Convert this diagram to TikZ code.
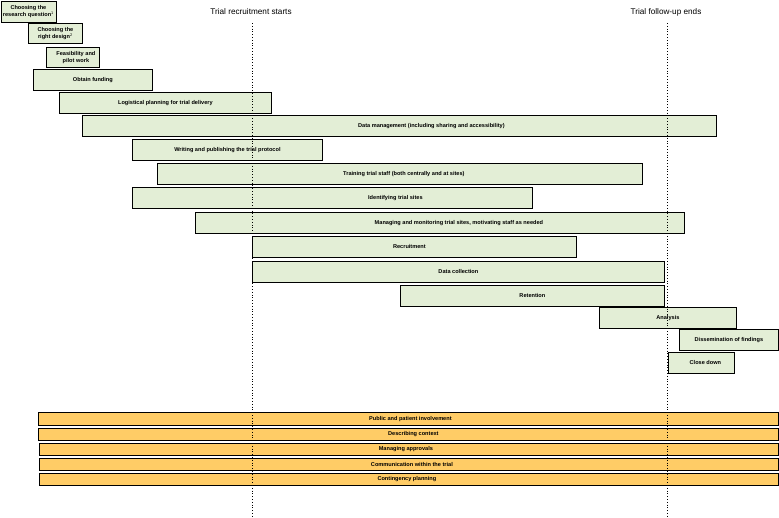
\documentclass[tikz,border=0pt]{standalone}
\usepackage{fontspec}
\setmainfont{Liberation Sans}
\begin{document}
\begin{tikzpicture}[x=1pt,y=-1pt,
  txt/.style={font=\fontsize{5.6}{6.4}\selectfont\bfseries,align=center},
  bx/.style={draw=black,line width=0.8pt,anchor=north west,inner sep=0pt,txt},
  gb/.style={bx,fill=gfill},
  ob/.style={bx,fill=ofill},
  lab/.style={txt,inner sep=0pt},
  hdr/.style={font=\fontsize{8.2}{9}\selectfont,inner sep=0pt},
  vline/.style={draw=black,line width=0.8pt,dotted}]
\definecolor{gfill}{HTML}{E3EED6}
\definecolor{ofill}{HTML}{FFCC66}
\useasboundingbox (0,0) rectangle (779,517);
% green boxes
\node[gb,minimum width=55pt,minimum height=21pt] (q) at (0.5,0.5) {Choosing the\\research question$^{\mathrm{1}}$};
\node[gb,minimum width=54pt,minimum height=20pt] (d) at (28,23) {Choosing the\\right design$^{\mathrm{2}}$};
\node[gb,minimum width=53pt,minimum height=20pt,label={[lab,xshift=3pt]center:Feasibility and\\pilot work}] (f) at (46,47) {};
\node[gb,minimum width=119pt,minimum height=21pt] (fund) at (33,69) {Obtain funding};
\node[gb,minimum width=212pt,minimum height=21pt] (log) at (59,92) {Logistical planning for trial delivery};
\node[gb,minimum width=634pt,minimum height=21pt,label={[lab,xshift=32pt]center:Data management (including sharing and accessibility)}] (dm) at (82,115) {};
\node[gb,minimum width=190pt,minimum height=21pt] (wp) at (132,139) {Writing and publishing the trial protocol};
\node[gb,minimum width=485pt,minimum height=21pt,label={[lab,xshift=4pt]center:Training trial staff (both centrally and at sites)}] (tr) at (157,163) {};
\node[gb,minimum width=400pt,minimum height=21pt,label={[lab,xshift=63pt]center:Identifying trial sites}] (id) at (132,187) {};
\node[gb,minimum width=489pt,minimum height=21pt,label={[lab,xshift=19pt]center:Managing and monitoring trial sites, motivating staff as needed}] (mm) at (195,212) {};
\node[gb,minimum width=324pt,minimum height=21pt,label={[lab,xshift=-5pt]center:Recruitment}] (rec) at (252,236) {};
\node[gb,minimum width=412pt,minimum height=21pt] (dc) at (252,261) {Data collection};
\node[gb,minimum width=264pt,minimum height=21pt] (ret) at (400,285) {Retention};
\node[gb,minimum width=137pt,minimum height=21pt] (an) at (599,307) {Analysis};
\node[gb,minimum width=99pt,minimum height=21pt] (dis) at (679,329) {Dissemination of findings};
\node[gb,minimum width=66pt,minimum height=21pt,label={[lab,xshift=4pt]center:Close down}] (cd) at (668,352) {};
% orange bars
\node[ob,minimum width=740pt,minimum height=13pt,label={[lab,xshift=2pt]center:Public and patient involvement}] (ppi) at (38,412) {};
\node[ob,minimum width=740pt,minimum height=12.5pt,label={[lab,xshift=5pt]center:Describing context}] (ctx) at (38,427.5) {};
\node[ob,minimum width=739pt,minimum height=12.5pt,label={[lab,xshift=-3pt]center:Managing approvals}] (appr) at (39,442.5) {};
\node[ob,minimum width=739pt,minimum height=12.5pt,label={[lab,xshift=3pt]center:Communication within the trial}] (comm) at (39,457.5) {};
\node[ob,minimum width=739pt,minimum height=12.5pt,label={[lab,xshift=-2pt]center:Contingency planning}] (cont) at (39,472.5) {};
% headers and dotted lines
\node[hdr] (rs) at (251,12) {Trial recruitment starts};
\node[hdr] (fe) at (666,12) {Trial follow-up ends};
\coordinate (rst) at (252,23);
\coordinate (fet) at (667,23);
\coordinate (rsb) at (252,517);
\coordinate (feb) at (667,517);
\draw[vline] (rst) -- (rsb);
\draw[vline] (fet) -- (feb);
\end{tikzpicture}
\end{document}
